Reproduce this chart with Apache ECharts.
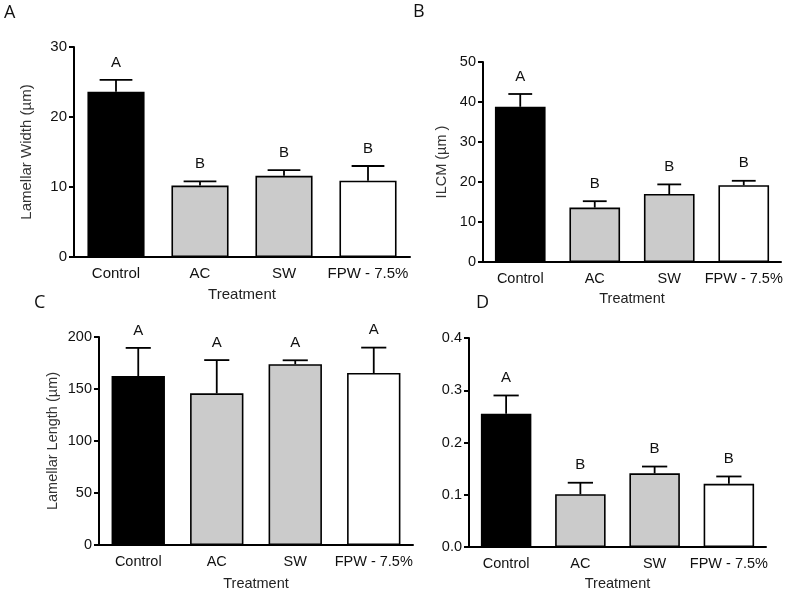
<!DOCTYPE html>
<html>
<head>
<meta charset="utf-8">
<script src="https://cdn.jsdelivr.net/npm/echarts@6/dist/echarts.min.js"></script>
<style>
html,body{margin:0;padding:0;background:#fff;}
#chart{width:787px;height:594px;}
</style>
</head>
<body>
<div id="chart"></div>
<script>
// ---- data ----
const categories = ['Control', 'AC', 'SW', 'FPW - 7.5%'];

const widthMean = [23.6, 10.2, 11.6, 10.9];
const widthSem = [1.7, 0.6, 0.8, 2.1];
const widthLetters = ['A', 'B', 'B', 'B'];
const widthTicks = [0, 10, 20, 30];

const ilcmMean = [38.8, 13.6, 17.0, 19.2];
const ilcmSem = [3.2, 1.6, 2.4, 1.1];
const ilcmLetters = ['A', 'B', 'B', 'B'];
const ilcmTicks = [0, 10, 20, 30, 40, 50];

const lengthMean = [162.5, 145.8, 173.8, 165.4];
const lengthSem = [27.0, 32.0, 3.8, 24.4];
const lengthLetters = ['A', 'A', 'A', 'A'];
const lengthTicks = [0, 50, 100, 150, 200];

const ratioMean = [0.255, 0.101, 0.141, 0.121];
const ratioSem = [0.035, 0.022, 0.013, 0.014];
const ratioLetters = ['A', 'B', 'B', 'B'];
const ratioTicks = [0.0, 0.1, 0.2, 0.3, 0.4];

// ---- styling ----
const barColors = ['#000000', '#cbcbcb', '#cbcbcb', '#ffffff'];
const FONT = '"Liberation Sans", Arial, sans-serif';

const panels = [
  {mean: widthMean, sem: widthSem, letters: widthLetters, ticks: widthTicks, yName: 'Lamellar Width (µm)',
   grid: {left: 74, top: 47, width: 336, height: 210}, yGap: 40, xGap: 30, cap: 0.39, fs: 15, dec: 0},
  {mean: ilcmMean, sem: ilcmSem, letters: ilcmLetters, ticks: ilcmTicks, yName: 'ILCM (µm )',
   grid: {left: 483, top: 62, width: 298, height: 200}, yGap: 34, xGap: 29, cap: 0.32, fs: 14.5, dec: 0},
  {mean: lengthMean, sem: lengthSem, letters: lengthLetters, ticks: lengthTicks, yName: 'Lamellar Length (µm)',
   grid: {left: 99, top: 337, width: 314, height: 208}, yGap: 39, xGap: 31, cap: 0.32, fs: 14.5, dec: 0},
  {mean: ratioMean, sem: ratioSem, letters: ratioLetters, ticks: ratioTicks, yName: '',
   grid: {left: 469, top: 338, width: 297, height: 209}, yGap: 40, xGap: 29, cap: 0.34, fs: 14.5, dec: 1}
];

const grids = [], xAxes = [], yAxes = [], series = [];
panels.forEach((p, i) => {
  grids.push(Object.assign({containLabel: false}, p.grid));
  xAxes.push({
    type: 'category', gridIndex: i, data: categories,
    name: 'Treatment', nameLocation: 'middle', nameGap: p.xGap,
    nameTextStyle: {fontFamily: FONT, fontSize: p.fs, color: '#222'},
    axisLine: {lineStyle: {color: '#000', width: 2}},
    axisTick: {alignWithLabel: true, length: 5, lineStyle: {color: '#000', width: 2}},
    axisLabel: {interval: 0, hideOverlap: false, margin: 9, fontFamily: FONT, fontSize: p.fs, color: '#111'}
  });
  const t = p.ticks;
  yAxes.push({
    type: 'value', gridIndex: i,
    min: t[0], max: t[t.length - 1], interval: t[1] - t[0],
    name: p.yName, nameLocation: 'middle', nameGap: p.yGap, nameRotate: 90,
    nameTextStyle: {fontFamily: FONT, fontSize: p.fs, color: '#333'},
    axisLine: {show: true, lineStyle: {color: '#000', width: 2}},
    axisTick: {show: true, length: 5, lineStyle: {color: '#000', width: 2}},
    splitLine: {show: false},
    axisLabel: {margin: 7, fontFamily: FONT, fontSize: p.fs, color: '#111',
      formatter: v => v.toFixed(p.dec)}
  });
  series.push({
    type: 'bar', xAxisIndex: i, yAxisIndex: i, barWidth: '68%',
    data: p.mean.map((v, k) => ({value: v, itemStyle: {color: barColors[k]}})),
    itemStyle: {borderColor: '#000', borderWidth: 1.6},
    silent: true, animation: false
  });
  series.push({
    type: 'custom', xAxisIndex: i, yAxisIndex: i, z: 5, animation: false, silent: true,
    data: p.mean.map((v, k) => [k, v, p.sem[k]]),
    renderItem: function (params, api) {
      const x = api.value(0), m = api.value(1), s = api.value(2);
      const base = api.coord([x, m]);
      const top = api.coord([x, m + s]);
      const bw = api.size([1, 0])[0];
      const half = bw * p.cap / 2;
      return {
        type: 'group',
        children: [
          {type: 'line', shape: {x1: base[0], y1: base[1], x2: top[0], y2: top[1]},
            style: {stroke: '#000', lineWidth: 1.8}},
          {type: 'line', shape: {x1: top[0] - half, y1: top[1], x2: top[0] + half, y2: top[1]},
            style: {stroke: '#000', lineWidth: 1.8}},
          {type: 'text', x: top[0], y: top[1] - 10,
            style: {text: p.letters[params.dataIndex], textAlign: 'center', textVerticalAlign: 'bottom',
              font: '15px ' + FONT, fill: '#111'}}
        ]
      };
    }
  });
});

const panelLabels = [
  {text: 'A', left: 4, top: 4},
  {text: 'B', left: 413, top: 3},
  {text: 'C', left: 34, top: 294},
  {text: 'D', left: 476, top: 294}
];

const chart = echarts.init(document.getElementById('chart'), null, {renderer: 'canvas'});
chart.setOption({
  animation: false,
  backgroundColor: '#ffffff',
  grid: grids, xAxis: xAxes, yAxis: yAxes, series: series,
  graphic: panelLabels.map(l => ({
    type: 'text', left: l.left, top: l.top,
    style: {text: l.text, font: '18px "Open Sans", sans-serif', fill: '#111'}
  }))
});
</script>
</body>
</html>
